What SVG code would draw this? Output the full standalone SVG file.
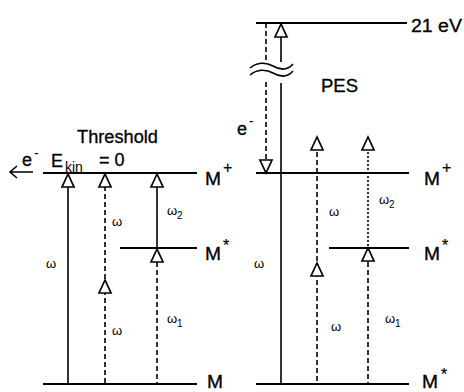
<svg xmlns="http://www.w3.org/2000/svg" xmlns:xlink="http://www.w3.org/1999/xlink" width="464" height="392" viewBox="0 0 464 392">
<style>
.lvl{stroke:#000;stroke-width:2.2;fill:none}
.s{stroke:#000;stroke-width:1.6;fill:none}
.d{stroke:#000;stroke-width:1.6;fill:none;stroke-dasharray:5,3}
.dt{stroke:#000;stroke-width:1.6;fill:none;stroke-dasharray:2,2}
.t{font-family:"Liberation Sans",Arial,sans-serif;fill:#000}
.big{font-size:18px;stroke:#000;stroke-width:0.3}
.lab{font-size:18px;stroke:#000;stroke-width:0.3}
.sup{font-size:14px}
.ms{font-size:16px;stroke:#000;stroke-width:0.2}
.w{font-size:13px}
.sub{font-size:10px}
</style>
<defs>
<path id="up" d="M0,0 L-6,13 L6,13 Z" fill="#fff" stroke="#000" stroke-width="1.7"/>
<path id="down" d="M0,0 L-6,-13 L6,-13 Z" fill="#fff" stroke="#000" stroke-width="1.7"/>
</defs>
<g id="connectors">
<line class="s" x1="68" y1="186" x2="68" y2="384"/>
<line class="d" x1="105" y1="186" x2="105" y2="384"/>
<line class="s" x1="157" y1="186" x2="157" y2="248"/>
<line class="d" x1="157" y1="262" x2="157" y2="384"/>
<use xlink:href="#up" x="68" y="174"/>
<use xlink:href="#up" x="105" y="174"/>
<use xlink:href="#up" x="105" y="280"/>
<use xlink:href="#up" x="157" y="174"/>
<use xlink:href="#up" x="157" y="249"/>
<path class="s" d="M10,172 H33 M17,166 L10,172 L17,178"/>
<line class="d" x1="266" y1="23" x2="266" y2="62"/>
<line class="d" x1="266" y1="82" x2="266" y2="160"/>
<use xlink:href="#down" x="266" y="173"/>
<line class="s" x1="281" y1="37" x2="281" y2="62"/>
<line class="s" x1="281" y1="83" x2="281" y2="384"/>
<use xlink:href="#up" x="281" y="24"/>
<path class="s" d="M250,68 C257,62 266,62 273,66 S287,71 293,64 M250,75 C257,69 266,69 273,73 S287,78 293,71"/>
<line class="d" x1="317" y1="152" x2="317" y2="384"/>
<use xlink:href="#up" x="317" y="137"/>
<use xlink:href="#up" x="317" y="263"/>
<line class="dt" x1="368" y1="152" x2="368" y2="248"/>
<line class="d" x1="368" y1="262" x2="368" y2="384"/>
<use xlink:href="#up" x="368" y="137"/>
<use xlink:href="#up" x="368" y="248"/>
</g>
<g id="left-levels">
<line class="lvl" x1="43" y1="173" x2="197" y2="173"/>
<line class="lvl" x1="120" y1="248" x2="197" y2="248"/>
<line class="lvl" x1="43" y1="384" x2="197" y2="384"/>
</g>
<g id="right-levels">
<line class="lvl" x1="256" y1="23" x2="407" y2="23"/>
<line class="lvl" x1="256" y1="173" x2="409" y2="173"/>
<line class="lvl" x1="329" y1="248" x2="409" y2="248"/>
<line class="lvl" x1="256" y1="384" x2="409" y2="384"/>
</g>
<g id="labels">
<text class="t big" x="77" y="143" textLength="81" lengthAdjust="spacingAndGlyphs">Threshold</text>
<text class="t big" x="321" y="92" textLength="37" lengthAdjust="spacingAndGlyphs">PES</text>
<text class="t big" x="411" y="32" textLength="51" lengthAdjust="spacingAndGlyphs">21 eV</text>
<text class="t lab" x="22" y="166">e</text>
<text class="t sup" x="34" y="158">-</text>
<text class="t big" x="51" y="167">E</text>
<text class="t sup" x="65" y="172">kin</text>
<text class="t big" x="99" y="166">= 0</text>
<text class="t lab" x="237" y="135">e</text>
<text class="t sup" x="249" y="126">-</text>
<text class="t lab" x="205" y="185" textLength="16" lengthAdjust="spacingAndGlyphs">M</text>
<text class="t ms" x="223" y="173">+</text>
<text class="t lab" x="205" y="260" textLength="16" lengthAdjust="spacingAndGlyphs">M</text>
<text class="t ms" x="223" y="251">*</text>
<text class="t lab" x="207" y="388" textLength="16" lengthAdjust="spacingAndGlyphs">M</text>
<text class="t lab" x="424" y="185" textLength="16" lengthAdjust="spacingAndGlyphs">M</text>
<text class="t ms" x="442" y="173">+</text>
<text class="t lab" x="424" y="260" textLength="16" lengthAdjust="spacingAndGlyphs">M</text>
<text class="t ms" x="442" y="251">*</text>
<text class="t lab" x="422" y="388" textLength="16" lengthAdjust="spacingAndGlyphs">M</text>
<text class="t ms" x="441" y="380">*</text>
<text class="t w" x="46" y="268">ω</text>
<text class="t w" x="112" y="226">ω</text>
<text class="t w" x="112" y="335">ω</text>
<text class="t w" x="167" y="215">ω</text>
<text class="t sub" x="177" y="219">2</text>
<text class="t w" x="167" y="323">ω</text>
<text class="t sub" x="177" y="327">1</text>
<text class="t w" x="254" y="268">ω</text>
<text class="t w" x="329" y="216">ω</text>
<text class="t w" x="331" y="331">ω</text>
<text class="t w" x="379" y="204">ω</text>
<text class="t sub" x="389" y="208">2</text>
<text class="t w" x="385" y="323">ω</text>
<text class="t sub" x="395" y="327">1</text>
</g>
</svg>
